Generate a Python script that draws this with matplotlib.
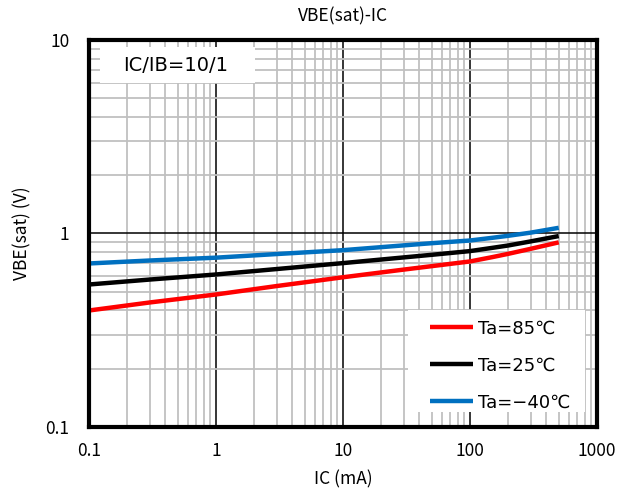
import numpy as np
import matplotlib.pyplot as plt
from matplotlib.patches import Rectangle
from matplotlib.ticker import LogLocator, FixedLocator, NullFormatter

plt.rcParams['font.family'] = ['Noto Sans CJK JP', 'DejaVu Sans']

# IC (mA) and VBE(sat) (V)
ic = [0.1, 0.3, 1, 3, 10, 28, 50, 100, 150, 200, 300, 500]
vbe_85 = [0.40, 0.44, 0.484, 0.535, 0.594, 0.647, 0.678, 0.717, 0.755, 0.785, 0.833, 0.90]
vbe_25 = [0.545, 0.578, 0.614, 0.655, 0.703, 0.749, 0.776, 0.811, 0.843, 0.867, 0.91, 0.97]
vbe_m40 = [0.70, 0.725, 0.75, 0.783, 0.82, 0.865, 0.891, 0.92, 0.95, 0.973, 1.01, 1.07]

labels = ['Ta=85℃', 'Ta=25℃', 'Ta=−40℃']
colors = ['#ff0000', '#000000', '#0070c0']

fig = plt.figure(figsize=(6.34, 4.95), dpi=100)
ax = fig.add_axes([0.1404, 0.1374, 0.8012, 0.7818])

for v, lab, c in zip([vbe_85, vbe_25, vbe_m40], labels, colors):
    ax.plot(ic, v, color=c, lw=3.2, label=lab, solid_capstyle='butt', zorder=3)

ax.set_xscale('log')
ax.set_yscale('log')
ax.set_xlim(0.1, 1000)
ax.set_ylim(0.1, 10)

ax.xaxis.set_major_locator(FixedLocator([0.1, 1, 10, 100, 1000]))
ax.set_xticklabels(['0.1', '1', '10', '100', '1000'])
ax.yaxis.set_major_locator(FixedLocator([0.1, 1, 10]))
ax.set_yticklabels(['0.1', '1', '10'])
ax.xaxis.set_minor_locator(LogLocator(base=10, subs=np.arange(2, 10)))
ax.yaxis.set_minor_locator(LogLocator(base=10, subs=np.arange(2, 10)))
ax.xaxis.set_minor_formatter(NullFormatter())
ax.yaxis.set_minor_formatter(NullFormatter())

ax.grid(which='minor', color='#c0c0c0', lw=1.3)
ax.grid(which='major', color='black', lw=1.1)
ax.set_axisbelow(True)
ax.tick_params(which='both', length=0, labelsize=12.5)
ax.tick_params(axis='x', pad=11)
ax.tick_params(axis='y', pad=14)

for s in ax.spines.values():
    s.set_linewidth(3)
    s.set_zorder(5)

ax.set_title('VBE(sat)-IC', fontsize=12.5, pad=13)
ax.set_xlabel('IC (mA)', fontsize=12.5, labelpad=7)
ax.set_ylabel('VBE(sat) (V)', fontsize=12.5, labelpad=10)

# white panels behind the annotation and the legend
ax.add_patch(Rectangle((0.0217, 0.889), 0.305, 0.093, transform=ax.transAxes,
                       facecolor='white', edgecolor='none', zorder=1))
ax.add_patch(Rectangle((0.628, 0.039), 0.348, 0.263, transform=ax.transAxes,
                       facecolor='white', edgecolor='none', zorder=1))

ax.text(0.484, 7.34, 'IC/IB=10/1', fontsize=14, va='center', ha='center',
        family=['DejaVu Sans'], zorder=2)

leg = ax.legend(loc='upper left', bbox_to_anchor=(0.671, 0.277),
                prop={'family': ['DejaVu Sans'], 'size': 13},
                frameon=False, handlelength=2.4, labelspacing=1.05,
                borderpad=0, handletextpad=0.25, borderaxespad=0)
for line in leg.get_lines():
    line.set_linewidth(3.2)

fig.savefig('out.png', dpi=100)
